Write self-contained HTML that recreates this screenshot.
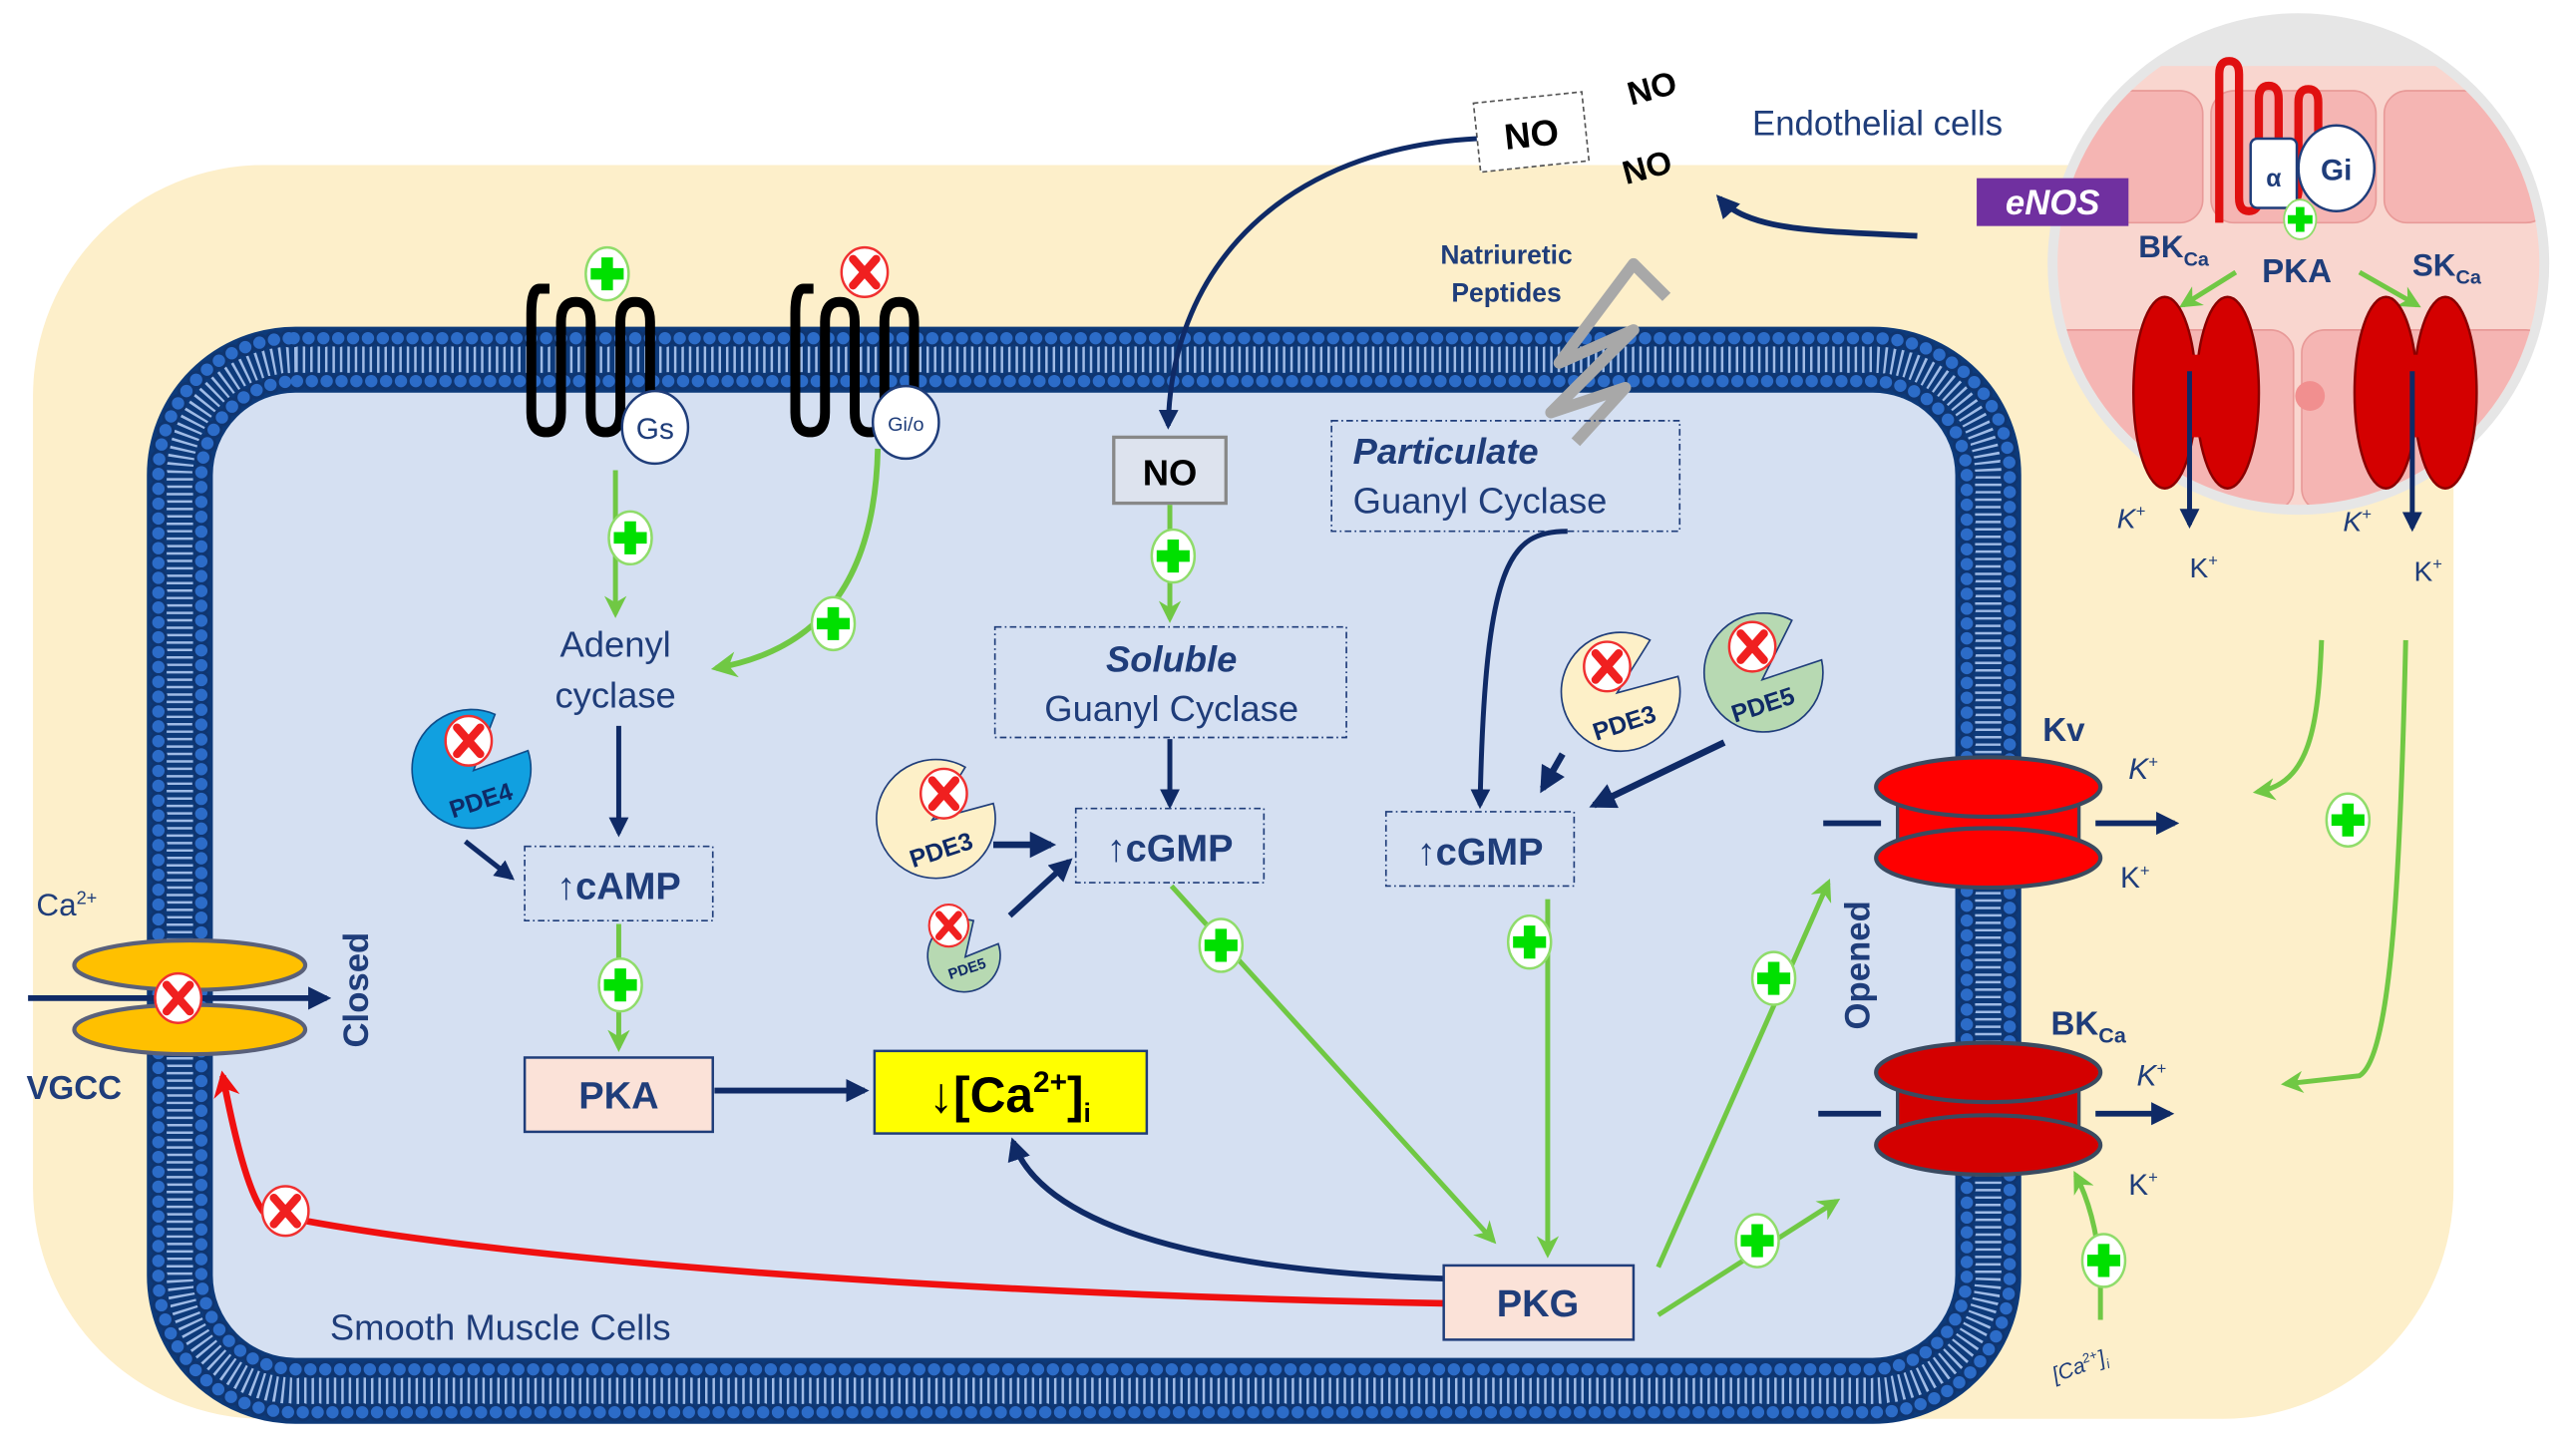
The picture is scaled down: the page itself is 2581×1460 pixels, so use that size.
<!DOCTYPE html>
<html><head><meta charset="utf-8"><style>html,body{margin:0;padding:0;background:#fff}svg{display:block}</style></head>
<body>
<svg width="2581" height="1460" viewBox="0 0 1560 882.5" preserveAspectRatio="none" xmlns="http://www.w3.org/2000/svg" font-family="Liberation Sans, sans-serif">
<defs>
<marker id="an" viewBox="0 0 10 10" refX="8" refY="5" markerWidth="4" markerHeight="4" orient="auto"><path d="M0,0 L10,5 L0,10 z" fill="#0f2a66"/></marker>
<marker id="ag" viewBox="0 0 10 10" refX="8" refY="5" markerWidth="4.5" markerHeight="4.5" orient="auto"><path d="M0,0 L10,5 L0,10 L3,5 z" fill="#70c844"/></marker>
<marker id="ar" viewBox="0 0 10 10" refX="8" refY="5" markerWidth="4" markerHeight="4" orient="auto"><path d="M0,0 L10,5 L0,10 L3,5 z" fill="#f01010"/></marker>
<g id="plus"><ellipse cx="0" cy="0" rx="13" ry="16" fill="#fff" stroke="#8fdc6a" stroke-width="1.5"/><path d="M-3.5,-10 h7 v6.5 h6.5 v7 h-6.5 v6.5 h-7 v-6.5 h-6.5 v-7 h6.5z" fill="#00e000"/></g>
<g id="xx"><ellipse cx="0" cy="0" rx="14" ry="15" fill="#fff" stroke="#f03030" stroke-width="1.5"/><path d="M-7,-8 L7,8 M7,-8 L-7,8" stroke="#f02020" stroke-width="5" stroke-linecap="round"/></g>
<clipPath id="circ"><circle cx="1393" cy="160" r="146"/></clipPath>
</defs>

<!-- beige background -->
<rect x="20" y="100" width="1467" height="760" rx="140" fill="#fdefca"/>

<!-- cell membrane -->
<rect x="90" y="199" width="1134" height="663" rx="88" fill="#d5e0f2"/>
<rect x="109" y="218" width="1096" height="625" rx="70" fill="none" stroke="#0d3a7a" stroke-width="40"/>
<rect x="109" y="218" width="1096" height="625" rx="70" fill="none" stroke="#9fbbe6" stroke-width="16" stroke-dasharray="1.5 3"/>
<rect x="96" y="205" width="1122" height="651" rx="82" fill="none" stroke="#0f3570" stroke-width="11" stroke-linecap="round" stroke-dasharray="0 9"/>
<rect x="96" y="205" width="1122" height="651" rx="82" fill="none" stroke="#2c6cc8" stroke-width="7.5" stroke-linecap="round" stroke-dasharray="0 9"/>
<rect x="122" y="231" width="1070" height="599" rx="58" fill="none" stroke="#0f3570" stroke-width="11" stroke-linecap="round" stroke-dasharray="0 9"/>
<rect x="122" y="231" width="1070" height="599" rx="58" fill="none" stroke="#2c6cc8" stroke-width="7.5" stroke-linecap="round" stroke-dasharray="0 9"/>

<!-- endothelial circle -->
<circle cx="1393" cy="160" r="152" fill="#e6e6e6"/>
<g clip-path="url(#circ)">
<rect x="1240" y="40" width="310" height="270" fill="#f9d6cf"/>
<rect x="1240" y="55" width="95" height="80" rx="14" fill="#f5b5b3" stroke="#e89a98"/>
<rect x="1340" y="55" width="100" height="80" rx="14" fill="#f5b5b3" stroke="#e89a98"/>
<rect x="1445" y="55" width="100" height="80" rx="14" fill="#f5b5b3" stroke="#e89a98"/>
<rect x="1240" y="200" width="150" height="110" rx="14" fill="#f5b5b3" stroke="#e89a98"/>
<rect x="1395" y="200" width="150" height="110" rx="14" fill="#f5b5b3" stroke="#e89a98"/>
<circle cx="1400" cy="240" r="9" fill="#f18f8f"/>
</g>
<path d="M1345,135 V45 q0,-8 6,-8 q6,0 6,8 V120 q0,8 6,8 q6,0 6,-8 V60 q0,-8 6,-8 q6,0 6,8 V115 q0,8 6,8 q6,0 6,-8 V62 q0,-8 6,-8 q6,0 6,8 V95" fill="none" stroke="#e01010" stroke-width="5"/>
<rect x="1364" y="84" width="28" height="42" rx="4" fill="#fff" stroke="#1f3d7a" stroke-width="1.5"/>
<text x="1378" y="113" font-size="15" font-weight="bold" fill="#1f3d7a" text-anchor="middle">α</text>
<ellipse cx="1416" cy="102" rx="23" ry="26" fill="#fff" stroke="#1f3d7a" stroke-width="1.5"/>
<text x="1416" y="109" font-size="18" font-weight="bold" fill="#1f3d7a" text-anchor="middle">Gi</text>
<use href="#plus" transform="translate(1394,133) scale(0.75)"/>
<text x="1296" y="156" font-size="19" font-weight="bold" fill="#1f3d7a">BK<tspan font-size="12" dy="5">Ca</tspan></text>
<text x="1392" y="171" font-size="20" font-weight="bold" fill="#1f3d7a" text-anchor="middle">PKA</text>
<text x="1462" y="167" font-size="19" font-weight="bold" fill="#1f3d7a">SK<tspan font-size="12" dy="5">Ca</tspan></text>
<path d="M1355,165 L1323,185" stroke="#70c844" stroke-width="3" marker-end="url(#ag)"/>
<path d="M1430,165 L1465,185" stroke="#70c844" stroke-width="3" marker-end="url(#ag)"/>
<g fill="#d40000" stroke="#8b0000" stroke-width="1.5">
<ellipse cx="1312" cy="238" rx="19" ry="58"/><ellipse cx="1350" cy="238" rx="19" ry="58"/><rect x="1312" y="215" width="38" height="50" stroke="none"/>
<ellipse cx="1446" cy="238" rx="19" ry="58"/><ellipse cx="1482" cy="238" rx="19" ry="58"/><rect x="1446" y="215" width="36" height="50" stroke="none"/>
</g>
<path d="M1327,225 V318" stroke="#0f2a66" stroke-width="3" marker-end="url(#an)"/>
<path d="M1462,225 V320" stroke="#0f2a66" stroke-width="3" marker-end="url(#an)"/>
<text x="1283" y="320" font-size="17" font-style="italic" fill="#1f3d7a">K<tspan font-size="10" dy="-7">+</tspan></text>
<text x="1420" y="322" font-size="17" font-style="italic" fill="#1f3d7a">K<tspan font-size="10" dy="-7">+</tspan></text>
<text x="1327" y="350" font-size="17" fill="#1f3d7a">K<tspan font-size="10" dy="-7">+</tspan></text>
<text x="1463" y="352" font-size="17" fill="#1f3d7a">K<tspan font-size="10" dy="-7">+</tspan></text>

<!-- eNOS & endothelial -->
<rect x="1198" y="108" width="92" height="29" fill="#7030a0"/>
<text x="1244" y="130" font-size="21" font-weight="bold" font-style="italic" fill="#fff" text-anchor="middle">eNOS</text>
<text x="1062" y="82" font-size="21" fill="#1f3d7a">Endothelial cells</text>
<path d="M1162,143 C1100,140 1060,140 1042,120" fill="none" stroke="#0f2a66" stroke-width="3.5" marker-end="url(#an)"/>
<g transform="rotate(-6 928 80)"><rect x="895" y="59" width="66" height="42" fill="#fff" stroke="#555" stroke-dasharray="3 2"/><text x="928" y="89" font-size="22" font-weight="bold" text-anchor="middle">NO</text></g>
<text x="1003" y="60" font-size="20" font-weight="bold" transform="rotate(-15 1003 60)" text-anchor="middle">NO</text>
<text x="1000" y="108" font-size="20" font-weight="bold" transform="rotate(-15 1000 108)" text-anchor="middle">NO</text>
<path d="M895,84 C780,90 710,160 708,258" fill="none" stroke="#0f2a66" stroke-width="3" marker-end="url(#an)"/>

<!-- Natriuretic -->
<text x="913" y="160" font-size="16" font-weight="bold" fill="#1f3d7a" text-anchor="middle">Natriuretic</text>
<text x="913" y="183" font-size="16" font-weight="bold" fill="#1f3d7a" text-anchor="middle">Peptides</text>
<path d="M1010,180 L990,160 L945,220 L990,200 L940,250 L985,235 L955,268" fill="none" stroke="#a8a8a8" stroke-width="7" stroke-linejoin="round"/>

<!-- receptors -->
<path d="M333,175 H327 Q322,175 322,190 V250 q0,12 9,12 q9,0 9,-12 V195 q0,-12 9,-12 q9,0 9,12 V250 q0,12 9,12 q9,0 9,-12 V195 q0,-12 9,-12 q9,0 9,12 V255" fill="none" stroke="#000" stroke-width="6"/>
<ellipse cx="397" cy="259" rx="20" ry="22" fill="#fff" stroke="#1f3d7a" stroke-width="1.5"/>
<text x="397" y="266" font-size="18" fill="#1f3d7a" text-anchor="middle">Gs</text>
<use href="#plus" transform="translate(368,166)"/>
<path d="M493,175 H487 Q482,175 482,190 V250 q0,12 9,12 q9,0 9,-12 V195 q0,-12 9,-12 q9,0 9,12 V250 q0,12 9,12 q9,0 9,-12 V195 q0,-12 9,-12 q9,0 9,12 V255" fill="none" stroke="#000" stroke-width="6"/>
<ellipse cx="549" cy="256" rx="20" ry="22" fill="#fff" stroke="#1f3d7a" stroke-width="1.5"/>
<text x="549" y="261" font-size="12" fill="#1f3d7a" text-anchor="middle">Gi/o</text>
<use href="#xx" transform="translate(524,165)"/>

<path d="M373,285 V372" stroke="#70c844" stroke-width="3" marker-end="url(#ag)"/>
<use href="#plus" transform="translate(382,326)"/>
<path d="M532,272 C530,360 490,395 434,405" fill="none" stroke="#70c844" stroke-width="3.5" marker-end="url(#ag)"/>
<use href="#plus" transform="translate(505,378)"/>
<text x="373" y="398" font-size="22" fill="#1f3d7a" text-anchor="middle">Adenyl</text>
<text x="373" y="429" font-size="22" fill="#1f3d7a" text-anchor="middle">cyclase</text>
<path d="M375,440 V505" stroke="#0f2a66" stroke-width="3" marker-end="url(#an)"/>

<!-- PDE4 -->
<path d="M287,467 L320,455 A36,36 0 1 1 300,433 Z" fill="#11a0e0" stroke="#0f4d8a" stroke-width="1"/>
<text x="293" y="490" font-size="15" font-weight="bold" fill="#0f2a66" transform="rotate(-18 293 490)" text-anchor="middle">PDE4</text>
<use href="#xx" transform="translate(284,449)"/>
<path d="M282,510 L310,532" stroke="#0f2a66" stroke-width="3" marker-end="url(#an)"/>

<rect x="318" y="513" width="114" height="45" fill="none" stroke="#1f3d7a" stroke-dasharray="4 2 1 2"/>
<text x="375" y="545" font-size="23" font-weight="bold" fill="#1f3d7a" text-anchor="middle">↑cAMP</text>
<path d="M375,560 V635" stroke="#70c844" stroke-width="3" marker-end="url(#ag)"/>
<use href="#plus" transform="translate(376,597)"/>
<rect x="318" y="641" width="114" height="45" fill="#fbe2d8" stroke="#1f3d7a" stroke-width="1.5"/>
<text x="375" y="672" font-size="23" font-weight="bold" fill="#1f3d7a" text-anchor="middle">PKA</text>
<path d="M433,661 H524" stroke="#0f2a66" stroke-width="3.5" marker-end="url(#an)"/>
<rect x="530" y="637" width="165" height="50" fill="#ffff00" stroke="#1f3d7a" stroke-width="1.5"/>
<text x="612" y="674" font-size="30" font-weight="bold" fill="#000" text-anchor="middle">↓[Ca<tspan font-size="18" dy="-12">2+</tspan><tspan dy="12">]</tspan><tspan font-size="16" dy="6">i</tspan></text>

<!-- NO / soluble -->
<rect x="675" y="265" width="68" height="40" fill="#dde3ee" stroke="#888" stroke-width="2"/>
<text x="709" y="294" font-size="22" font-weight="bold" text-anchor="middle">NO</text>
<path d="M709,306 V375" stroke="#70c844" stroke-width="3" marker-end="url(#ag)"/>
<use href="#plus" transform="translate(711,337)"/>
<rect x="603" y="380" width="213" height="67" fill="none" stroke="#1f3d7a" stroke-dasharray="4 2 1 2"/>
<text x="710" y="407" font-size="22" font-weight="bold" font-style="italic" fill="#1f3d7a" text-anchor="middle">Soluble</text>
<text x="710" y="437" font-size="22" fill="#1f3d7a" text-anchor="middle">Guanyl Cyclase</text>
<path d="M709,448 V488" stroke="#0f2a66" stroke-width="3" marker-end="url(#an)"/>
<rect x="652" y="490" width="114" height="45" fill="none" stroke="#1f3d7a" stroke-dasharray="4 2 1 2"/>
<text x="709" y="522" font-size="23" font-weight="bold" fill="#1f3d7a" text-anchor="middle">↑cGMP</text>

<path d="M565,497 L602,487 A36,36 0 1 1 585,465 Z" fill="#fdf0c8" stroke="#1f3d7a" stroke-width="1"/>
<text x="572" y="520" font-size="15" font-weight="bold" fill="#0f2a66" transform="rotate(-18 572 520)" text-anchor="middle">PDE3</text>
<use href="#xx" transform="translate(572,481)"/>
<path d="M602,512 H637" stroke="#0f2a66" stroke-width="4" marker-end="url(#an)"/>
<path d="M585,580 L605,572 A22,22 0 1 1 590,558 Z" fill="#b7d9b2" stroke="#1f3d7a" stroke-width="1"/>
<text x="587" y="590" font-size="9" font-weight="bold" fill="#0f2a66" transform="rotate(-18 587 590)" text-anchor="middle">PDE5</text>
<use href="#xx" transform="translate(575,561) scale(0.85)"/>
<path d="M612,555 L648,522" stroke="#0f2a66" stroke-width="3.5" marker-end="url(#an)"/>
<path d="M710,537 L905,752" stroke="#70c844" stroke-width="3" marker-end="url(#ag)"/>
<use href="#plus" transform="translate(740,573)"/>

<!-- Particulate -->
<rect x="807" y="255" width="211" height="67" fill="none" stroke="#1f3d7a" stroke-dasharray="4 2 1 2"/>
<text x="820" y="281" font-size="22" font-weight="bold" font-style="italic" fill="#1f3d7a">Particulate</text>
<text x="820" y="311" font-size="22" fill="#1f3d7a">Guanyl Cyclase</text>
<path d="M950,322 C915,322 900,340 897,488" fill="none" stroke="#0f2a66" stroke-width="3" marker-end="url(#an)"/>
<path d="M980,420 L1017,410 A36,36 0 1 1 1000,388 Z" fill="#fdf0c8" stroke="#1f3d7a" stroke-width="1"/>
<text x="986" y="443" font-size="15" font-weight="bold" fill="#0f2a66" transform="rotate(-18 986 443)" text-anchor="middle">PDE3</text>
<use href="#xx" transform="translate(974,404)"/>
<path d="M1068,412 L1104,400 A36,36 0 1 1 1086,376 Z" fill="#b7d9b2" stroke="#1f3d7a" stroke-width="1"/>
<text x="1070" y="432" font-size="15" font-weight="bold" fill="#0f2a66" transform="rotate(-18 1070 432)" text-anchor="middle">PDE5</text>
<use href="#xx" transform="translate(1062,392)"/>
<path d="M947,457 L935,478" stroke="#0f2a66" stroke-width="4" marker-end="url(#an)"/>
<path d="M1045,450 L966,488" stroke="#0f2a66" stroke-width="4" marker-end="url(#an)"/>
<rect x="840" y="492" width="114" height="45" fill="none" stroke="#1f3d7a" stroke-dasharray="4 2 1 2"/>
<text x="897" y="524" font-size="23" font-weight="bold" fill="#1f3d7a" text-anchor="middle">↑cGMP</text>
<path d="M938,545 V760" stroke="#70c844" stroke-width="3" marker-end="url(#ag)"/>
<use href="#plus" transform="translate(927,571)"/>

<!-- PKG -->
<path d="M875,775 C720,770 630,740 614,692" fill="none" stroke="#0f2a66" stroke-width="3.5" marker-end="url(#an)"/>
<path d="M875,790 C600,785 300,765 160,735 Q148,720 135,652" fill="none" stroke="#f01010" stroke-width="4" marker-end="url(#ar)"/>
<use href="#xx" transform="translate(173,734)"/>
<rect x="875" y="767" width="115" height="45" fill="#fbe2d8" stroke="#1f3d7a" stroke-width="1.5"/>
<text x="932" y="798" font-size="23" font-weight="bold" fill="#1f3d7a" text-anchor="middle">PKG</text>
<path d="M1005,768 L1108,535" stroke="#70c844" stroke-width="3" marker-end="url(#ag)"/>
<use href="#plus" transform="translate(1075,593)"/>
<path d="M1005,797 L1113,728" stroke="#70c844" stroke-width="3" marker-end="url(#ag)"/>
<use href="#plus" transform="translate(1065,752)"/>
<text x="1133" y="585" font-size="21" font-weight="bold" fill="#1f3d7a" transform="rotate(-90 1133 585)" text-anchor="middle">Opened</text>

<!-- VGCC -->
<ellipse cx="115" cy="585" rx="70" ry="15" fill="#ffc000" stroke="#59607a" stroke-width="2.5"/>
<ellipse cx="115" cy="624" rx="70" ry="15" fill="#ffc000" stroke="#59607a" stroke-width="2.5"/>
<path d="M17,605 H198" stroke="#0f2a66" stroke-width="3.5" marker-end="url(#an)"/>
<use href="#xx" transform="translate(108,605)"/>
<text x="22" y="555" font-size="19" fill="#1f3d7a">Ca<tspan font-size="11" dy="-7">2+</tspan></text>
<text x="16" y="666" font-size="20" font-weight="bold" fill="#1f3d7a">VGCC</text>
<text x="223" y="600" font-size="21" font-weight="bold" fill="#1f3d7a" transform="rotate(-90 223 600)" text-anchor="middle">Closed</text>
<text x="200" y="812" font-size="22" fill="#1f3d7a">Smooth Muscle Cells</text>

<!-- Kv -->
<path d="M1150,478 Q1205,500 1260,478 L1260,518 Q1205,496 1150,518 Z" fill="#ff0000" stroke="#3a4a60" stroke-width="2"/>
<ellipse cx="1205" cy="477" rx="68" ry="18" fill="#ff0000" stroke="#3a4a60" stroke-width="2.5"/>
<ellipse cx="1205" cy="520" rx="68" ry="18" fill="#ff0000" stroke="#3a4a60" stroke-width="2.5"/>
<path d="M1105,499 H1140" stroke="#0f2a66" stroke-width="3.5"/>
<path d="M1270,499 H1318" stroke="#0f2a66" stroke-width="3.5" marker-end="url(#an)"/>
<text x="1238" y="449" font-size="20" font-weight="bold" fill="#1f3d7a">Kv</text>
<text x="1290" y="472" font-size="18" font-style="italic" fill="#1f3d7a">K<tspan font-size="10" dy="-7">+</tspan></text>
<text x="1285" y="538" font-size="18" fill="#1f3d7a">K<tspan font-size="10" dy="-7">+</tspan></text>

<!-- BKCa -->
<path d="M1150,652 Q1205,674 1260,652 L1260,692 Q1205,670 1150,692 Z" fill="#d40000" stroke="#3a4a60" stroke-width="2"/>
<ellipse cx="1205" cy="650" rx="68" ry="18" fill="#d40000" stroke="#3a4a60" stroke-width="2.5"/>
<ellipse cx="1205" cy="694" rx="68" ry="18" fill="#d40000" stroke="#3a4a60" stroke-width="2.5"/>
<path d="M1102,675 H1140" stroke="#0f2a66" stroke-width="3.5"/>
<path d="M1270,675 H1315" stroke="#0f2a66" stroke-width="3.5" marker-end="url(#an)"/>
<text x="1243" y="627" font-size="20" font-weight="bold" fill="#1f3d7a">BK<tspan font-size="13" dy="5">Ca</tspan></text>
<text x="1295" y="658" font-size="18" font-style="italic" fill="#1f3d7a">K<tspan font-size="10" dy="-7">+</tspan></text>
<text x="1290" y="724" font-size="18" fill="#1f3d7a">K<tspan font-size="10" dy="-7">+</tspan></text>
<path d="M1273,800 V770 Q1270,735 1258,712" fill="none" stroke="#70c844" stroke-width="3" marker-end="url(#ag)"/>
<use href="#plus" transform="translate(1275,764)"/>
<text x="1262" y="832" font-size="13" font-style="italic" fill="#1f3d7a" transform="rotate(-20 1262 832)" text-anchor="middle">[Ca<tspan font-size="8" dy="-5">2+</tspan><tspan dy="5">]</tspan><tspan font-size="8" dy="3">i</tspan></text>

<!-- right green arrows -->
<path d="M1407,388 C1405,440 1400,475 1368,480" fill="none" stroke="#70c844" stroke-width="3" marker-end="url(#ag)"/>
<path d="M1458,388 C1455,520 1450,640 1430,652 L1385,657" fill="none" stroke="#70c844" stroke-width="3" marker-end="url(#ag)"/>
<use href="#plus" transform="translate(1423,497)"/>
</svg>
</body></html>
